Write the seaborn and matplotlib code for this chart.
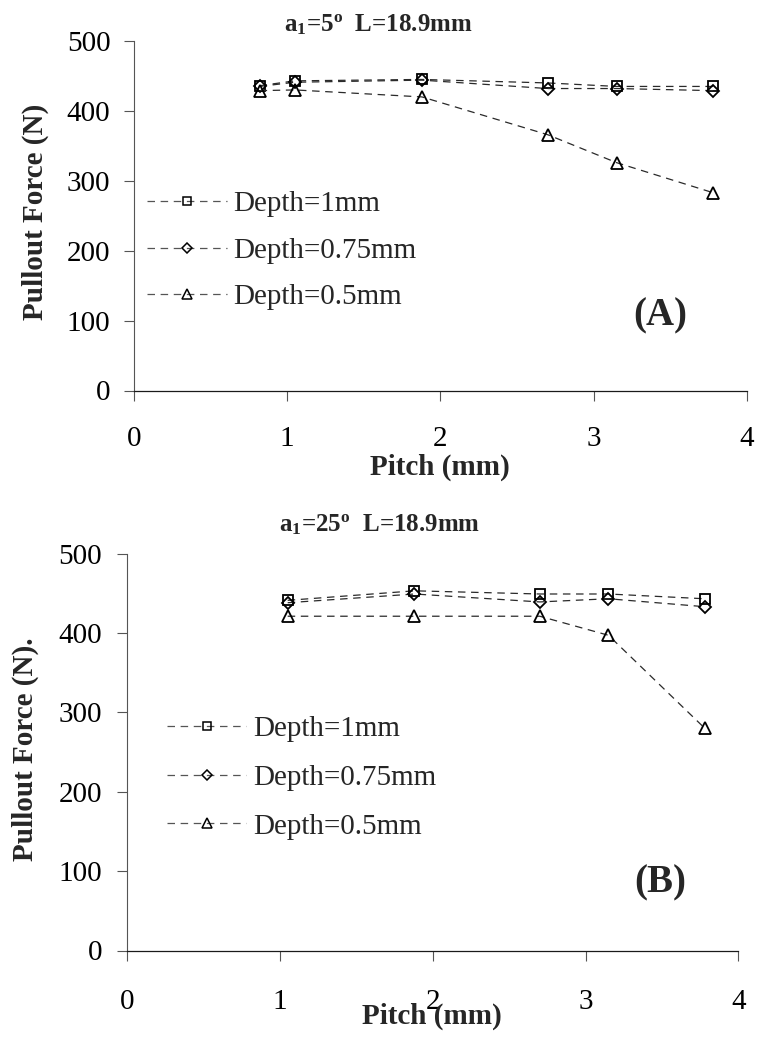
import matplotlib
matplotlib.use("Agg")
import matplotlib.pyplot as plt
import pandas as pd
import seaborn as sns

# Pullout force (N) against thread pitch (mm) for three thread depths
pitch_a = [0.82, 1.05, 1.88, 2.70, 3.15, 3.78]
force_a_d100 = [436, 443, 445, 440, 435, 435]
force_a_d075 = [435, 441, 444, 432, 432, 429]
force_a_d050 = [429, 430, 420, 366, 326, 283]

pitch_b = [1.05, 1.88, 2.70, 3.15, 3.78]
force_b_d100 = [441, 453, 449, 449, 443]
force_b_d075 = [438, 449, 439, 443, 433]
force_b_d050 = [421, 421, 421, 397, 280]

depth_labels = ["Depth=1mm", "Depth=0.75mm", "Depth=0.5mm"]
depth_markers = ["s", "D", "^"]
x_ticks = [0, 1, 2, 3, 4]
y_ticks = [0, 100, 200, 300, 400, 500]

title_a = r"a$_\mathbf{1}$=5$^\mathbf{o}$  L=18.9mm"
title_b = r"a$_\mathbf{1}$=25$^\mathbf{o}$  L=18.9mm"
ylabel_a = "Pullout Force (N)"
ylabel_b = "Pullout Force (N)."
xlabel = "Pitch (mm)"

W, H = 757, 1040

sns.set_theme(style="ticks")
plt.rcParams["font.family"] = ["Liberation Serif", "DejaVu Serif"]
plt.rcParams["mathtext.fontset"] = "custom"
plt.rcParams["mathtext.rm"] = "Liberation Serif"
plt.rcParams["mathtext.bf"] = "Liberation Serif:bold"
plt.rcParams["mathtext.it"] = "Liberation Serif:italic"

fig = plt.figure(figsize=(W / 100, H / 100), dpi=100)
fig.patch.set_facecolor("white")


def px_box(left, top, right, bottom):
    return [left / W, 1 - bottom / H, (right - left) / W, (bottom - top) / H]


def long_frame(pitch, series):
    rows = []
    for label, vals in zip(depth_labels, series):
        for p, v in zip(pitch, vals):
            rows.append({"pitch": p, "force": v, "depth": label})
    return pd.DataFrame(rows)


def draw_panel(ax, df, ylabel, xpad, ypad, ylabel_xy, legend_anchor,
               handlelength, textpad, spacing):
    for label, marker in zip(depth_labels, depth_markers):
        sub = df[df["depth"] == label]
        ms = {"s": 7, "D": 5.8, "^": 8}[marker]
        sns.lineplot(data=sub, x="pitch", y="force", ax=ax, label=label,
                     color="#2a2a2a", linewidth=0.9,
                     linestyle=(0, (6, 4.5)), marker=marker, markersize=ms,
                     markerfacecolor="none", markeredgecolor="black",
                     markeredgewidth=1.3, errorbar=None, estimator=None)
    ax.set_xlim(0, 4)
    ax.set_ylim(0, 500)
    ax.set_xticks(x_ticks)
    ax.set_yticks(y_ticks)
    sns.despine(ax=ax)
    ax.spines["left"].set_color("#555555")
    ax.spines["bottom"].set_color("#1a1a1a")
    ax.spines["left"].set_linewidth(0.8)
    ax.spines["bottom"].set_linewidth(0.9)
    ax.tick_params(axis="x", direction="out", length=7, width=0.8,
                   color="#555555", pad=xpad, labelsize=21, labelcolor="black")
    ax.tick_params(axis="y", direction="out", length=7, width=0.8,
                   color="#555555", pad=ypad, labelsize=21, labelcolor="black")
    ax.set_xlabel("")
    ax.set_ylabel(ylabel, fontsize=21, fontweight="bold")
    ax.yaxis.set_label_coords(*ylabel_xy)
    leg = ax.legend(loc="center left",
                    bbox_to_anchor=(legend_anchor[0] / W, 1 - legend_anchor[1] / H),
                    bbox_transform=fig.transFigure, frameon=False,
                    borderpad=0, borderaxespad=0, fontsize=21,
                    handlelength=handlelength, handletextpad=textpad,
                    labelspacing=spacing)
    for line in leg.get_lines():
        line.set_color("#555555")
        line.set_markeredgecolor("black")
        line.set_markersize(line.get_markersize() * 0.85)
        line.set_markeredgewidth(1.1)
    return ax


ax_a = fig.add_axes(px_box(134, 41, 746.7, 390.5))
df_a = long_frame(pitch_a, [force_a_d100, force_a_d075, force_a_d050])
draw_panel(ax_a, df_a, ylabel_a, xpad=18.7, ypad=10,
           ylabel_xy=(-0.1395, 0.512), legend_anchor=(146.7, 250.6),
           handlelength=2.74, textpad=0.22, spacing=0.69)

ax_b = fig.add_axes(px_box(127.3, 553.5, 738.3, 950.5))
df_b = long_frame(pitch_b, [force_b_d100, force_b_d075, force_b_d050])
draw_panel(ax_b, df_b, ylabel_b, xpad=21, ypad=11,
           ylabel_xy=(-0.1437, 0.506), legend_anchor=(167.3, 777.6),
           handlelength=2.7, textpad=0.25, spacing=0.77)

# Panel headings, axis titles and panel tags
fig.text(378 / W, 1 - 25 / H, title_a, ha="center", va="center",
         fontsize=18, fontweight="bold")
fig.text(380 / W, 1 - 525 / H, title_b, ha="center", va="center",
         fontsize=18, fontweight="bold")
fig.text(440 / W, 1 - 467 / H, xlabel, ha="center", va="center",
         fontsize=21, fontweight="bold")
fig.text(432 / W, 1 - 1016 / H, xlabel, ha="center", va="center",
         fontsize=21, fontweight="bold")
fig.text(660 / W, 1 - 316 / H, "(A)", ha="center", va="center",
         fontsize=28, fontweight="bold")
fig.text(660 / W, 1 - 883 / H, "(B)", ha="center", va="center",
         fontsize=28, fontweight="bold")

fig.savefig("out.png", dpi=100, facecolor="white")
